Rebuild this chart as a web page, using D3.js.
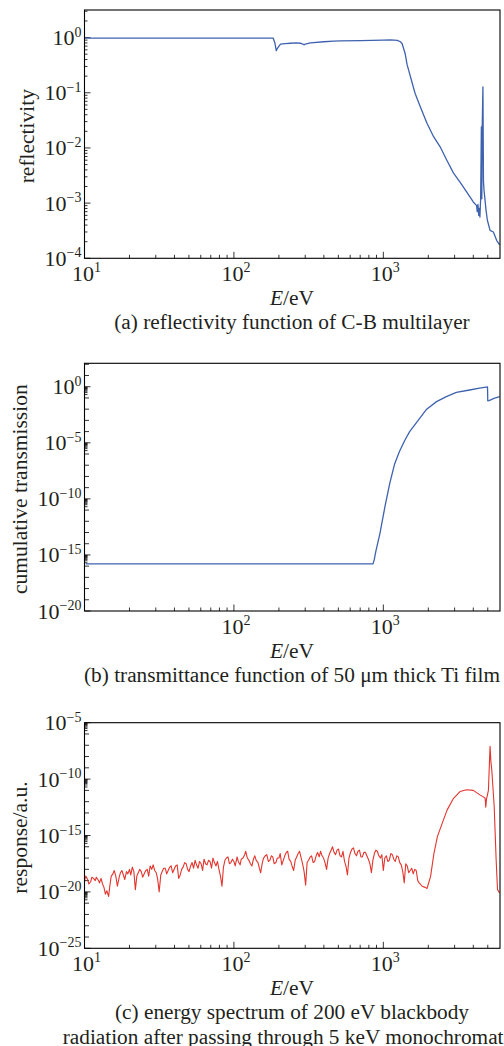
<!DOCTYPE html>
<html>
<head>
<meta charset="utf-8">
<script src="https://cdn.jsdelivr.net/npm/d3@7"></script>
<style>
  body { margin: 0; background: #fff; }
  text { font-family: "Liberation Serif", "Times New Roman", serif; fill: #231f20; }
</style>
</head>
<body>
<div id="chart"></div>
<script>
// panel (a) reflectivity of C-B multilayer
const aEnergy = [10, 183, 188, 192, 197, 205, 220, 239, 260, 278, 290, 294, 300, 325, 400, 465, 515, 700, 1000, 1120, 1240, 1300, 1335, 1370, 1400, 1440, 1475, 1550, 1630, 1770, 1960, 2170, 2400, 2660, 2950, 3260, 3610, 4000, 4210, 4250, 4300, 4350, 4400, 4430, 4480, 4530, 4560, 4590, 4640, 4680, 4720, 4870, 4970, 5180, 5450, 5740, 6000];
const aRefl = [0.98, 0.98, 0.8, 0.58, 0.66, 0.76, 0.78, 0.79, 0.8, 0.79, 0.76, 0.74, 0.76, 0.8, 0.84, 0.86, 0.87, 0.88, 0.9, 0.91, 0.89, 0.84, 0.78, 0.62, 0.51, 0.33, 0.26, 0.16, 0.098, 0.055, 0.028, 0.016, 0.0105, 0.006, 0.0035, 0.0024, 0.0016, 0.00105, 0.0009, 0.0007, 0.00095, 0.0006, 0.0008, 0.00056, 0.0012, 0.024, 0.0012, 0.024, 0.128, 0.0025, 0.0017, 0.00074, 0.00049, 0.00032, 0.0003, 0.00021, 0.000175];

// panel (b) cumulative transmission of 50 um Ti
const bEnergy = [10.2, 853, 870, 890, 950, 1025, 1105, 1190, 1280, 1390, 1500, 1720, 1950, 2270, 2640, 3080, 3780, 4400, 4880, 4980, 5000, 5100, 5500, 6000];
const bTrans = [1.6e-16, 1.6e-16, 4e-16, 2e-15, 9e-14, 2e-11, 2.5e-9, 1.3e-7, 1.6e-6, 1.6e-5, 1e-4, 1.1e-3, 0.01, 0.047, 0.13, 0.32, 0.51, 0.75, 0.93, 0.95, 0.055, 0.058, 0.09, 0.13];

// panel (c) spectrum, response given as log10 values
const cEnergy = [
  10, 10.2, 10.5, 10.7, 11, 11.2, 11.5, 11.8, 12, 12.3, 12.6, 12.9, 13.2, 13.5, 13.8, 14.1, 14.5, 14.8, 15.1, 15.5,
  15.8, 16.2, 16.6, 17, 17.4, 17.8, 18.2, 18.6, 19.1, 19.5, 20, 20.4, 20.9, 21.4, 21.9, 22.4, 22.9, 23.4, 24, 24.5,
  25.1, 25.7, 26.3, 26.9, 27.5, 28.2, 28.8, 29.5, 30.2, 30.9, 31.6, 32.4, 33.1, 33.9, 34.7, 35.5, 36.3, 37.2, 38, 38.9,
  39.8, 40.7, 41.7, 42.7, 43.7, 44.7, 45.7, 46.8, 47.9, 49, 50.1, 51.3, 52.5, 53.7, 55, 56.2, 57.5, 58.9, 60.3, 61.7,
  63.1, 64.6, 66.1, 67.6, 69.2, 70.8, 72.4, 74.1, 75.9, 77.6, 79.4, 81.3, 83.2, 85.1, 87.1, 89.1, 91.2, 93.3, 95.5, 97.7,
  100, 102, 105, 107, 110, 112, 115, 118, 120, 123, 126, 129, 132, 135, 138, 141, 145, 148, 151, 155,
  158, 162, 166, 170, 174, 178, 182, 186, 191, 195, 200, 204, 209, 214, 219, 224, 229, 234, 240, 245,
  251, 257, 263, 269, 275, 282, 288, 295, 302, 309, 316, 324, 331, 339, 347, 355, 363, 372, 380, 389,
  398, 407, 417, 427, 437, 447, 457, 468, 479, 490, 501, 513, 525, 537, 550, 562, 575, 589, 603, 617,
  631, 646, 661, 676, 692, 708, 724, 741, 759, 776, 794, 813, 832, 851, 871, 891, 912, 933, 955, 977,
  1000, 1023, 1047, 1072, 1096, 1122, 1148, 1175, 1202, 1230, 1259, 1288, 1318, 1349, 1380, 1413, 1445, 1479, 1514, 1549,
  1585, 1622, 1660, 1700, 1738, 1820, 1905, 1960,
  2070, 2180, 2300, 2480, 2670, 2950, 3260, 3610, 4000, 4430, 4700, 4800, 4850, 4900, 5050, 5180, 5250, 5320, 5400, 5520, 5690, 5810, 6000];
const cRespLog = [
  -19.0, -18.6, -18.9, -19.3, -19.1, -18.7, -18.8, -19.0, -18.7, -18.9, -19.2, -18.8, -19.3, -19.6, -20.2, -19.9, -20.4, -19.4, -18.6, -18.4,
  -18.1, -18.6, -19.5, -18.8, -18.3, -18.1, -18.5, -18.9, -18.2, -18.4, -18.0, -18.5, -17.8, -18.2, -19.8, -18.6, -18.3, -18.0, -18.2, -18.7,
  -18.4, -18.1, -18.0, -18.6, -17.7, -18.0, -17.6, -18.1, -18.3, -18.9, -20.0, -18.5, -18.2, -17.9, -17.9, -18.4, -18.1, -17.8, -17.7, -18.3,
  -18.0, -17.7, -17.6, -18.8, -18.5, -18.0, -17.8, -17.4, -17.5, -18.0, -18.2, -17.7, -17.4, -17.9, -17.2, -17.6, -17.9, -17.3, -17.5, -18.1,
  -17.1, -17.5, -17.6, -17.2, -17.3, -17.9, -17.0, -17.4, -17.7, -17.3, -18.0, -18.6, -19.5, -17.8, -17.2, -17.0, -16.9, -17.5, -17.4, -17.1,
  -17.3, -17.7, -16.9, -17.3, -17.6, -17.1, -17.0, -16.7, -16.4, -17.0, -17.2, -17.5, -17.7, -17.1, -16.8, -17.2, -17.4, -17.9, -18.3, -17.4,
  -17.0, -16.8, -16.7, -17.3, -17.2, -16.8, -16.9, -17.5, -17.4, -17.0, -17.0, -16.6, -17.6, -17.2, -16.8, -16.5, -16.4, -17.1, -17.3, -17.7,
  -18.1, -17.2, -16.9, -16.6, -16.4, -17.0, -17.5, -18.2, -19.4, -17.4, -17.2, -16.9, -16.8, -17.4, -17.3, -16.8, -16.5, -16.9, -16.4, -16.8,
  -17.0, -17.4, -18.0, -17.0, -16.6, -16.3, -16.0, -16.5, -16.7, -16.3, -16.2, -16.8, -16.9, -16.4, -17.3, -17.7, -18.5, -17.0, -16.5, -16.2,
  -16.1, -16.6, -16.8, -16.4, -16.3, -16.9, -16.9, -16.5, -16.5, -16.8, -17.1, -17.5, -18.3, -17.2, -16.6, -16.3, -16.4, -16.8, -17.0, -16.7,
  -18.1, -17.0, -16.8, -17.3, -17.2, -16.6, -16.7, -17.1, -17.3, -16.8, -16.9, -17.4, -17.6, -18.2, -19.2, -17.5, -17.7, -18.3, -18.1, -17.9,
  -18.4, -18.0, -18.1, -19.0, -19.2, -19.5, -19.6, -19.7,
  -18.65, -16.6, -15.1, -13.9, -12.75, -11.7, -11.1, -10.95, -11.0, -11.4, -11.6, -11.7, -12.5, -11.8, -11.0, -7.1, -8.5, -9.2, -10.5, -12.4, -17.2, -19.8, -20.1];

// ticks
const xMajor = [10, 100, 1000];
const xMinor = [20, 30, 40, 50, 60, 70, 80, 90, 200, 300, 400, 500, 600, 700, 800, 900, 2000, 3000, 4000, 5000];
const aYMajorExp = [0, -1, -2, -3, -4];
const bYMajorExp = [0, -5, -10, -15, -20];
const cYMajorExp = [-5, -10, -15, -20, -25];

const blue = '#3f62ae';
const red = '#e2352d';

const svg = d3.select('#chart').append('svg')
  .attr('width', 504).attr('height', 1046);

function powLabel(t, e) {
  t.text('10');
  t.append('tspan').attr('dy', -8.5).attr('font-size', 14)
    .text(e < 0 ? '\u2212' + (-e) : String(e));
}

function drawPanel(p) {
  const left = 84.5, right = 500;
  const x = d3.scaleLog().domain([10, 6000]).range([left, 499.6]);
  const y = d3.scaleLog().domain(p.yDomain).range([p.bottom, p.top]);
  const g = svg.append('g');

  // y ticks: majors, decades, and 2..9 minors
  const yt = [];
  const lo = Math.round(Math.log10(p.yDomain[0])), hi = Math.floor(Math.log10(p.yDomain[1]));
  for (let k = lo; k <= hi; k++) {
    const isMajor = p.yMajor.includes(k);
    yt.push({v: Math.pow(10, k), len: isMajor ? 6 : 4.5});
    if (p.step === 1 || isMajor) {
      const base = p.step === 1 ? k : k - 1;
      for (let j = 2; j <= 9; j++) {
        const v = j * Math.pow(10, base);
        if (v > p.yDomain[0] && v < p.yDomain[1]) yt.push({v: v, len: 3});
      }
    }
  }
  g.selectAll('.yt').data(yt).join('line')
    .attr('x1', left).attr('x2', d => left + d.len)
    .attr('y1', d => y(d.v)).attr('y2', d => y(d.v))
    .attr('stroke', '#000').attr('stroke-width', 0.8);

  const xt = xMajor.map(v => ({v, len: 6.5})).concat(xMinor.map(v => ({v, len: 3.5})));
  g.selectAll('.xt').data(xt).join('line')
    .attr('x1', d => x(d.v)).attr('x2', d => x(d.v))
    .attr('y1', p.bottom).attr('y2', d => p.bottom - d.len)
    .attr('stroke', '#000').attr('stroke-width', 0.8);

  // curve
  const pts = p.xs.map((e, i) => [e, p.ys[i]]);
  g.append('path').datum(pts)
    .attr('fill', 'none').attr('stroke', p.color).attr('stroke-width', p.lw)
    .attr('stroke-linejoin', 'round')
    .attr('d', d3.line().x(d => x(d[0])).y(d => y(d[1])));

  // frame
  g.append('rect').attr('x', left).attr('y', p.top)
    .attr('width', right - left).attr('height', p.bottom - p.top)
    .attr('fill', 'none').attr('stroke', '#000').attr('stroke-width', 1.1);

  // y labels
  p.yMajor.forEach(k => {
    const t = g.append('text').attr('x', 81.5).attr('y', y(Math.pow(10, k)) + 7.5)
      .attr('text-anchor', 'end').attr('font-size', 22);
    powLabel(t, k);
  });
  // x labels
  p.xLabels.forEach(v => {
    const t = g.append('text').attr('x', x(v) + 2).attr('y', p.bottom + 22.5)
      .attr('text-anchor', 'middle').attr('font-size', 22);
    powLabel(t, Math.round(Math.log10(v)));
  });

  // axis titles
  const xt2 = g.append('text').attr('x', 292).attr('y', p.bottom + 47)
    .attr('text-anchor', 'middle').attr('font-size', 21.5);
  xt2.append('tspan').attr('font-style', 'italic').text('E');
  xt2.append('tspan').text('/eV');

  g.append('text')
    .attr('transform', `translate(${p.yTitleX},${(p.top + p.bottom) / 2 + 2}) rotate(-90)`)
    .attr('text-anchor', 'middle').attr('font-size', 21.5).text(p.yTitle);

  p.caption.forEach((c, i) => {
    g.append('text').attr('x', 292).attr('y', p.bottom + 71 + i * 25)
      .attr('text-anchor', 'middle').attr('font-size', 21.3).text(c);
  });
}

drawPanel({
  top: 10, bottom: 258.3, yDomain: [1e-4, Math.pow(10, 0.5)], yMajor: aYMajorExp, step: 1,
  xs: aEnergy, ys: aRefl, color: blue, lw: 1.3, xLabels: [10, 100, 1000],
  yTitle: 'reflectivity', yTitleX: 34,
  caption: ['(a) reflectivity function of C-B multilayer']
});

drawPanel({
  top: 363.3, bottom: 611, yDomain: [1e-20, Math.pow(10, 2.09)], yMajor: bYMajorExp, step: 5,
  xs: bEnergy, ys: bTrans, color: blue, lw: 1.3, xLabels: [100, 1000],
  yTitle: 'cumulative transmission', yTitleX: 27,
  caption: ['(b) transmittance function of 50 \u03bcm thick Ti film']
});

drawPanel({
  top: 722.7, bottom: 948.3, yDomain: [1e-25, 1e-5], yMajor: cYMajorExp, step: 5,
  xs: cEnergy, ys: cRespLog.map(v => Math.pow(10, v)), color: red, lw: 1.1, xLabels: [10, 100, 1000],
  yTitle: 'response/a.u.', yTitleX: 27,
  caption: ['(c) energy spectrum of 200 eV blackbody', 'radiation after passing through 5 keV monochromator']
});
</script>
</body>
</html>
